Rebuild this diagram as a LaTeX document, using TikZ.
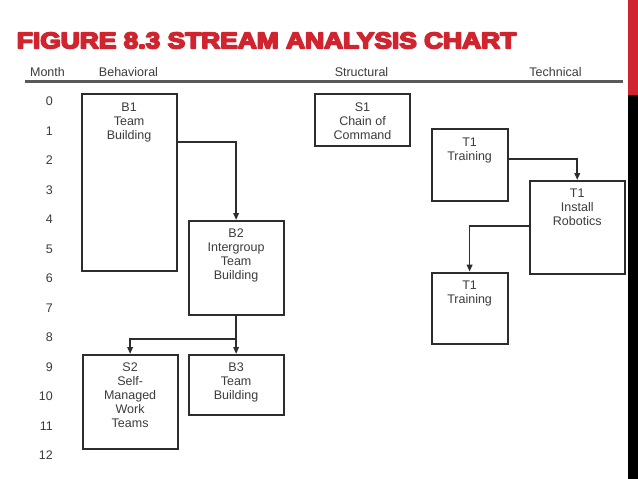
\documentclass[tikz,border=0pt]{standalone}
\usepackage{fontspec}
\usepackage{graphicx}
\setmainfont{Liberation Sans}
\newfontfamily\titlefont[FakeBold=7]{Liberation Sans Bold}
\usetikzlibrary{arrows.meta}
\definecolor{titlered}{RGB}{208,36,46}
\definecolor{ink}{RGB}{60,60,60}
\definecolor{boxline}{RGB}{45,45,45}
\begin{document}
\begin{tikzpicture}[x=1pt,y=-1pt,
  txt/.style={font=\fontsize{12.5}{14}\selectfont, text=ink, inner sep=0pt},
  lbl/.style={txt, align=center, anchor=north},
  box/.style={draw=boxline, line width=1.8pt, inner sep=0pt, anchor=north west},
  arr/.style={draw=boxline, line width=1.7pt, -{Triangle[length=7pt,width=5.5pt]}},
  num/.style={txt, anchor=base east}]
\useasboundingbox (0,0) rectangle (638,479);
\fill[white] (0,0) rectangle (638,479);
% side strip
\fill[titlered] (628,0) rectangle (638,95);
\fill[black] (628,95) rectangle (638,479);
% title
\node[anchor=base west, inner sep=0pt, text=titlered, line join=round] (title) at (16.7,48.3)
  {\scalebox{1.16}[1]{\fontsize{22.7}{26}\titlefont FIGURE 8.3 STREAM ANALYSIS CHART}};
% header
\node[txt, anchor=base] (hm) at (47.5,76) {Month};
\node[txt, anchor=base] (hb) at (128.5,76) {Behavioral};
\node[txt, anchor=base] (hs) at (361.5,76) {Structural};
\node[txt, anchor=base] (ht) at (555.5,76) {Technical};
\draw[draw=ink!85, line width=2.2pt] (25,81.5) -- (622.5,81.5);
% month numbers
\foreach \i in {0,...,12}{
  \node[num] (m\i) at (53,105.5+29.5*\i) {\i};
}
% boxes
\node[box, minimum width=95pt, minimum height=176.7pt] (b1) at (80.7,93.3) {};
\node[lbl] (b1t) at ([yshift=-8.9pt]b1.north) {B1\\Team\\Building};
\node[box, minimum width=95pt, minimum height=94pt] (b2) at (187.7,220) {};
\node[lbl] (b2t) at ([yshift=-8.9pt]b2.north) {B2\\Intergroup\\Team\\Building};
\node[box, minimum width=95pt, minimum height=93.7pt] (s2) at (81.7,354) {};
\node[lbl] (s2t) at ([yshift=-8.9pt]s2.north) {S2\\Self-\\Managed\\Work\\Teams};
\node[box, minimum width=95pt, minimum height=60.3pt] (b3) at (187.7,354) {};
\node[lbl] (b3t) at ([yshift=-8.9pt]b3.north) {B3\\Team\\Building};
\node[box, minimum width=95.3pt, minimum height=51.7pt] (s1) at (314,93.3) {};
\node[lbl] (s1t) at ([yshift=-8.9pt]s1.north) {S1\\Chain of\\Command};
\node[box, minimum width=76pt, minimum height=71.7pt] (t1a) at (430.7,128.3) {};
\node[lbl] (t1at) at ([yshift=-8.9pt]t1a.north) {T1\\Training};
\node[box, minimum width=94.7pt, minimum height=93.3pt] (t2) at (529,180) {};
\node[lbl] (t2t) at ([yshift=-8.9pt]t2.north) {T1\\Install\\Robotics};
\node[box, minimum width=76pt, minimum height=71.6pt] (t3) at (430.7,271.7) {};
\node[lbl] (t3t) at ([yshift=-8.9pt]t3.north) {T1\\Training};
% connectors
\draw[arr] ([yshift=-48.4pt]b1.north east) -| (b2.north);
\draw[arr] (b2.south) -- (b3.north);
\draw[arr] (b2.south) |- ([yshift=14.7pt]s2.north) -- (s2.north);
\draw[arr] ([yshift=-30.7pt]t1a.north east) -| (t2.north);
\draw[arr] ([yshift=-45.7pt]t2.north west) -| (t3.north);
\end{tikzpicture}
\end{document}
